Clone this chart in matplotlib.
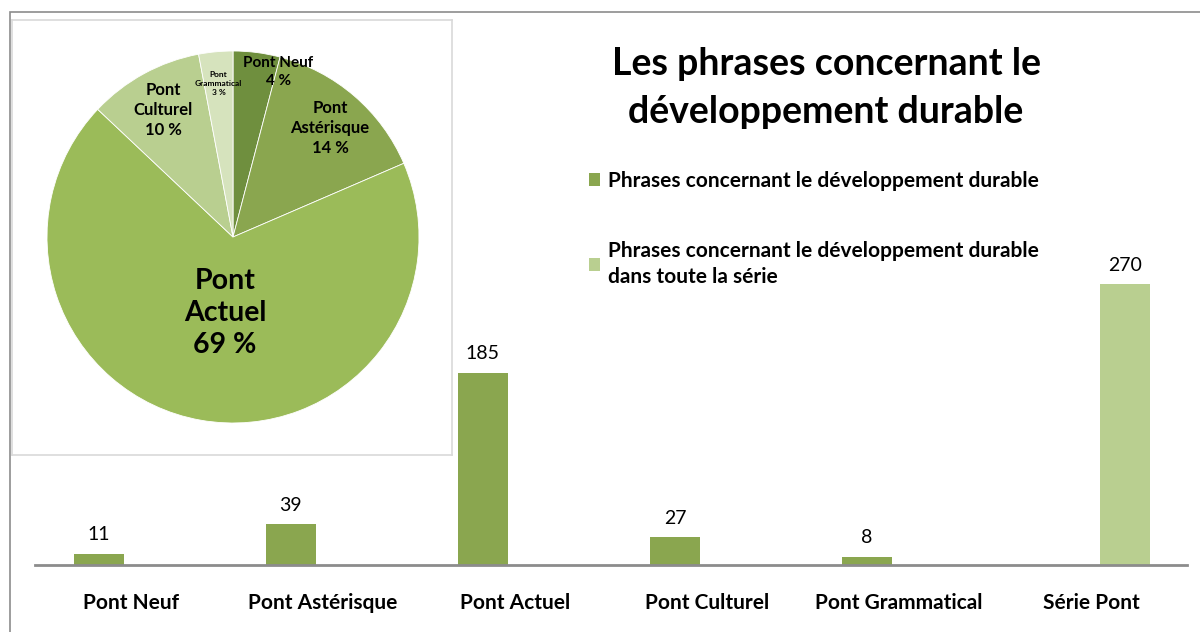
import numpy as np
import matplotlib.pyplot as plt
from matplotlib.patches import Rectangle

plt.rcParams['font.family'] = ['Lato', 'DejaVu Sans']

# data
categories = ["Pont Neuf", "Pont Astérisque", "Pont Actuel", "Pont Culturel",
              "Pont Grammatical", "Série Pont"]
phrases = [11, 39, 185, 27, 8]          # par pont
serie_total = [270]                       # toute la série
pie_labels = ["Pont Neuf", "Pont\nAstérisque", "Pont\nActuel", "Pont\nCulturel",
              "Pont\nGrammatical"]
pie_colors = ["#6f8f3e", "#8aa64f", "#9bbb59", "#b9cf90", "#d6e3bd"]

c_serie1 = "#8aa64f"
c_serie2 = "#b9cf90"

W, H = 1200, 632
fig = plt.figure(figsize=(12, 6.32), dpi=100)


def px_axes(x0, y0, x1, y1):
    # pixel box (from top left) -> figure fraction
    return [x0 / W, 1 - y1 / H, (x1 - x0) / W, (y1 - y0) / H]


# outer frame
fig.patches.append(Rectangle((10 / W, -0.1), 1.2, 1 - 12 / H + 0.1,
                             transform=fig.transFigure, fill=False,
                             edgecolor="#8c8c8c", linewidth=1.2))

# bar chart
ax = fig.add_axes(px_axes(35, 253, 1187, 565))
x = np.arange(len(categories))
bw = 0.26
b1 = ax.bar(x[:5] - 0.167, phrases, bw, color=c_serie1,
            label="Phrases concernant le développement durable")
b2 = ax.bar(x[5:] + 0.177, serie_total, bw, color=c_serie2,
            label="Phrases concernant le développement durable\ndans toute la série")
for bars in (b1, b2):
    for r in bars:
        ax.text(r.get_x() + r.get_width() / 2, r.get_height() + 10,
                f"{int(r.get_height())}", ha="center", va="bottom", fontsize=14)
ax.set_xlim(-0.5, 5.5)
ax.set_ylim(0, 300)
ax.set_xticks(x)
ax.set_xticklabels(categories, fontsize=15, fontweight="bold")
ax.tick_params(axis="x", length=0, pad=20)
ax.set_yticks([])
for s in ("top", "right", "left"):
    ax.spines[s].set_visible(False)
ax.spines["bottom"].set_color("#8c8c8c")
ax.spines["bottom"].set_linewidth(2)

fig.text(826 / W, 1 - 88 / H, "Les phrases concernant le\ndéveloppement durable",
         ha="center", va="center", fontsize=27, fontweight="bold",
         linespacing=1.5)

leg = ax.legend(loc="upper left", bbox_to_anchor=(570 / W, 1 - 152 / H),
                bbox_transform=fig.transFigure, frameon=False,
                prop={"size": 15, "weight": "bold"}, handlelength=0.55,
                handleheight=0.55, handletextpad=0.35, labelspacing=2.4)
for t in leg.get_texts():
    t.set_linespacing(1.4)

# pie inset
pax = fig.add_axes(px_axes(12, 20, 452, 455))
wedges, _ = pax.pie(phrases, colors=pie_colors, startangle=90, counterclock=False,
                    wedgeprops={"edgecolor": "white", "linewidth": 0.6})
pax.set_aspect("auto")
pax.set_xlim(-221 / 186, 219 / 186)
pax.set_ylim(-218 / 186, 217 / 186)
pax.set_axis_on()
pax.set_frame_on(True)
pax.set_xticks([])
pax.set_yticks([])
for s in pax.spines.values():
    s.set_visible(True)
    s.set_color("#d9d9d9")
    s.set_linewidth(1.2)
pax.set_facecolor("white")

total = sum(phrases)
rad = [0.92, 0.785, 0.41, 0.78, 0.83]
shift = [-8, -1, 4, 0, 0]
sizes = [11, 12, 20.5, 12, 6]
for w, lab, v, r, d, fs in zip(wedges, pie_labels, phrases, rad, shift, sizes):
    ang = np.deg2rad((w.theta1 + w.theta2) / 2 + d)
    pct = f"{round(100 * v / total)} %"
    pax.text(r * np.cos(ang), r * np.sin(ang), f"{lab}\n{pct}", ha="center",
             va="center", fontsize=fs, fontweight="bold", linespacing=1.3)

fig.savefig("out.png", dpi=100)
